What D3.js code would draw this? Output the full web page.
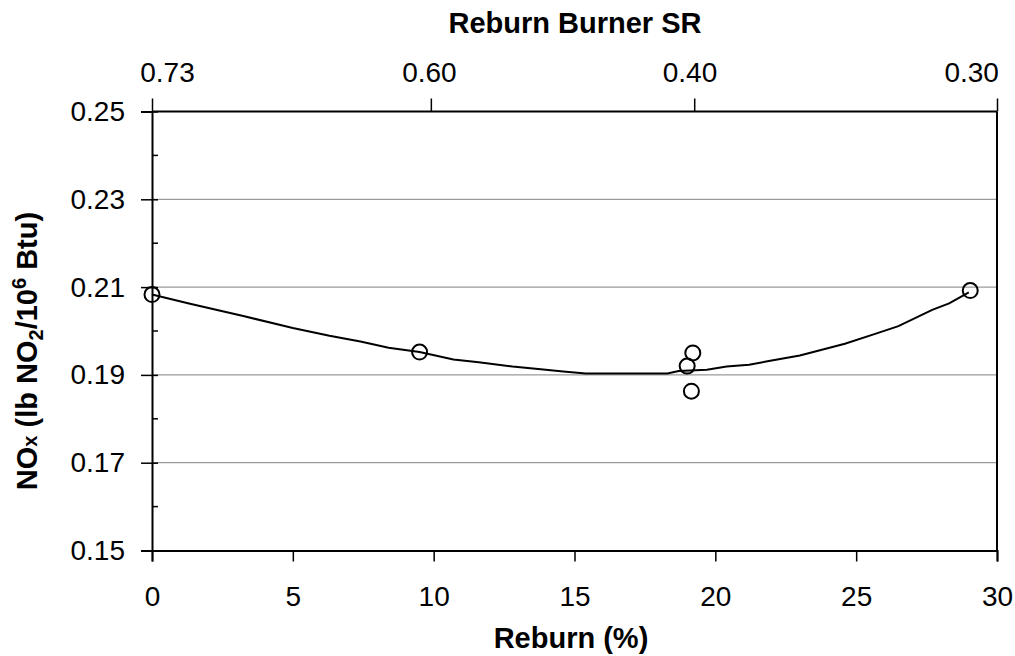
<!DOCTYPE html>
<html>
<head>
<meta charset="utf-8">
<script src="https://cdn.jsdelivr.net/npm/d3@7"></script>
<style>
  body { margin: 0; background: #fff; }
  text { font-family: "Liberation Sans", Arial, sans-serif; fill: #000; }
</style>
</head>
<body>
<div id="chart"></div>
<script>
// measured points
const reburnPct = [0, 9.5, 19.0, 19.2, 19.15, 29.05];
const noxValues = [0.2083, 0.1952, 0.192, 0.195, 0.1863, 0.2092];

// trend line
const fitX = [0, 1.35, 3.24, 5.0, 6.3, 7.4, 8.4, 9.5, 10.7, 11.6, 12.8, 13.8, 14.6, 15.4, 17.0, 18.3, 18.7, 19.7, 20.4, 21.2, 22.0, 23.0, 24.6, 25.7, 26.5, 27.7, 28.3, 29.0];
const fitY = [0.2083, 0.2062, 0.2034, 0.2007, 0.1989, 0.1976, 0.1962, 0.1952, 0.1935, 0.1929, 0.1919, 0.1913, 0.1908, 0.1903, 0.1903, 0.1903, 0.1909, 0.1912, 0.1919, 0.1923, 0.1933, 0.1944, 0.1971, 0.1994, 0.2011, 0.2048, 0.2063, 0.2088];

// axis ticks
const xTicks = [0, 5, 10, 15, 20, 25, 30];
const yTicks = [0.15, 0.17, 0.19, 0.21, 0.23, 0.25];
const yMinor = [0.16, 0.18, 0.2, 0.22, 0.24];
const gridValues = [0.17, 0.19, 0.21, 0.23];

// secondary (top) axis: burner stoichiometric ratio
const srLabels = ["0.73", "0.60", "0.40", "0.30"];
const srTicks = [0, 9.9, 19.25, 30];
const srLabelPos = [0.55, 9.85, 19.1, 29.1];

var w = 1015;
var h = 656;
var margin = { top: 111.5, right: 18, bottom: 105.5, left: 152 };
var font = '"Liberation Sans", Arial, sans-serif';

var svg = d3
  .select("#chart")
  .append("svg")
  .attr("width", w)
  .attr("height", h);

var x = d3.scaleLinear().domain([0, 30]).range([margin.left, w - margin.right]);
var y = d3.scaleLinear().domain([0.15, 0.25]).range([h - margin.bottom, margin.top]);

// gridlines
svg
  .append("g")
  .selectAll("line")
  .data(gridValues)
  .enter()
  .append("line")
  .attr("x1", x(0))
  .attr("x2", x(30))
  .attr("y1", (d) => y(d))
  .attr("y2", (d) => y(d))
  .attr("stroke", "#808080")
  .attr("stroke-width", 1);

// frame: top and right
svg.append("line")
  .attr("x1", x(0)).attr("x2", x(30))
  .attr("y1", y(0.25)).attr("y2", y(0.25))
  .attr("stroke", "#000").attr("stroke-width", 2);
svg.append("line")
  .attr("x1", x(30)).attr("x2", x(30))
  .attr("y1", y(0.25)).attr("y2", y(0.15))
  .attr("stroke", "#000").attr("stroke-width", 2);

// bottom axis
var xAxis = svg
  .append("g")
  .attr("transform", "translate(0," + y(0.15) + ")")
  .call(d3.axisBottom(x).tickValues(xTicks).tickSize(11).tickPadding(25).tickFormat(d3.format("d")));

// left axis
var yAxis = svg
  .append("g")
  .attr("transform", "translate(" + x(0) + ",0)")
  .call(d3.axisLeft(y).tickValues(yTicks).tickSize(11).tickPadding(16).tickFormat(d3.format(".2f")));

// major ticks also poke inside
yAxis.selectAll(".tick")
  .append("line")
  .attr("x2", 6)
  .attr("stroke", "#000");

// minor ticks, inside only
svg
  .append("g")
  .selectAll("line")
  .data(yMinor)
  .enter()
  .append("line")
  .attr("x1", x(0))
  .attr("x2", x(0) + 6)
  .attr("y1", (d) => y(d))
  .attr("y2", (d) => y(d))
  .attr("stroke", "#000")
  .attr("stroke-width", 1.5);

// top axis ticks (labels placed separately, as in the original)
var topAxis = svg
  .append("g")
  .attr("transform", "translate(0," + y(0.25) + ")")
  .call(d3.axisTop(x).tickValues(srTicks).tickSize(13).tickFormat(""));
topAxis.select(".domain").remove();

svg
  .append("g")
  .selectAll("text")
  .data(srLabels)
  .enter()
  .append("text")
  .attr("x", (d, i) => x(srLabelPos[i]))
  .attr("y", 82)
  .attr("text-anchor", "middle")
  .style("font-size", "28px")
  .text((d) => d);

[xAxis, yAxis, topAxis].forEach((a) => {
  a.select(".domain").attr("stroke-width", 2);
  a.selectAll(".tick line").attr("stroke-width", 1.5);
  a.selectAll("text")
    .style("font-family", font)
    .style("font-size", "28px");
});

// trend line
var line = d3.line()
  .x((d) => x(d[0]))
  .y((d) => y(d[1]));

svg.append("path")
  .datum(d3.zip(fitX, fitY))
  .attr("d", line)
  .attr("fill", "none")
  .attr("stroke", "#000")
  .attr("stroke-width", 2);

// data points
svg
  .append("g")
  .selectAll("circle")
  .data(d3.zip(reburnPct, noxValues))
  .enter()
  .append("circle")
  .attr("cx", (d) => x(d[0]))
  .attr("cy", (d) => y(d[1]))
  .attr("r", 7.5)
  .attr("fill", "none")
  .attr("stroke", "#000")
  .attr("stroke-width", 2);

// titles
svg.append("text")
  .attr("x", 575)
  .attr("y", 33)
  .attr("text-anchor", "middle")
  .style("font-size", "29px")
  .style("font-weight", "bold")
  .text("Reburn Burner SR");

svg.append("text")
  .attr("x", 571)
  .attr("y", 648)
  .attr("text-anchor", "middle")
  .style("font-size", "29px")
  .style("font-weight", "bold")
  .text("Reburn (%)");

var yTitle = svg.append("text")
  .attr("transform", "translate(37,351) rotate(-90)")
  .attr("text-anchor", "middle")
  .style("font-size", "29px")
  .style("font-weight", "bold");
yTitle.append("tspan").text("NO");
yTitle.append("tspan").style("font-size", "20px").text("x");
yTitle.append("tspan").text(" (lb NO");
yTitle.append("tspan").attr("dy", 6).style("font-size", "20px").text("2");
yTitle.append("tspan").attr("dy", -6).text("/10");
yTitle.append("tspan").attr("dy", -11).style("font-size", "20px").text("6");
yTitle.append("tspan").attr("dy", 11).text(" Btu)");
</script>
</body>
</html>
